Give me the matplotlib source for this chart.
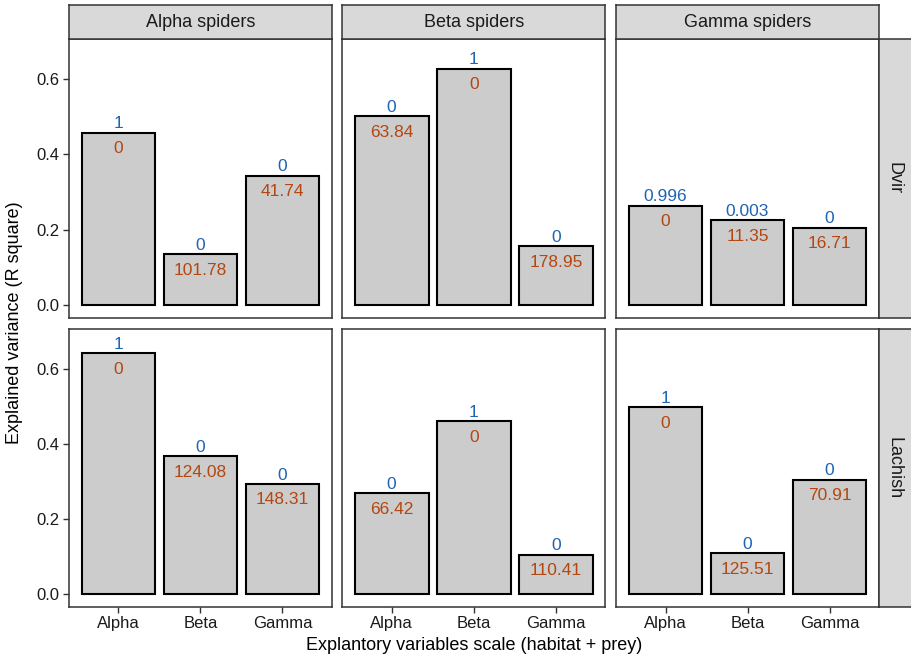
import matplotlib
matplotlib.use("Agg")
import matplotlib.pyplot as plt
from matplotlib.patches import Rectangle

plt.rcParams["font.family"] = ["Liberation Sans", "DejaVu Sans"]

# Facets
spider_groups = ["Alpha spiders", "Beta spiders", "Gamma spiders"]
sites = ["Dvir", "Lachish"]
scales = ["Alpha", "Beta", "Gamma"]

# Explained variance (R square) per site, spider group, explanatory scale
r2_dvir = {
    "Alpha spiders": [0.457, 0.135, 0.343],
    "Beta spiders": [0.501, 0.627, 0.156],
    "Gamma spiders": [0.263, 0.225, 0.205],
}
r2_lachish = {
    "Alpha spiders": [0.641, 0.367, 0.293],
    "Beta spiders": [0.268, 0.460, 0.1045],
    "Gamma spiders": [0.497, 0.109, 0.304],
}

# Model weights (above bars)
weight_dvir = {
    "Alpha spiders": ["1", "0", "0"],
    "Beta spiders": ["0", "1", "0"],
    "Gamma spiders": ["0.996", "0.003", "0"],
}
weight_lachish = {
    "Alpha spiders": ["1", "0", "0"],
    "Beta spiders": ["0", "1", "0"],
    "Gamma spiders": ["1", "0", "0"],
}

# Delta AIC (inside bars)
daic_dvir = {
    "Alpha spiders": ["0", "101.78", "41.74"],
    "Beta spiders": ["63.84", "0", "178.95"],
    "Gamma spiders": ["0", "11.35", "16.71"],
}
daic_lachish = {
    "Alpha spiders": ["0", "124.08", "148.31"],
    "Beta spiders": ["66.42", "0", "110.41"],
    "Gamma spiders": ["0", "125.51", "70.91"],
}

r2 = {"Dvir": r2_dvir, "Lachish": r2_lachish}
weights = {"Dvir": weight_dvir, "Lachish": weight_lachish}
daic = {"Dvir": daic_dvir, "Lachish": daic_lachish}

W, H = 911, 657
fig = plt.figure(figsize=(W / 100, H / 100), dpi=100)

col_x = [(69.3, 331.7), (342.3, 605.3), (616.3, 878.7)]
row_y = [(39.3, 317.7), (329.3, 606.7)]
strip_top = 5.0
strip_right = 912.0

BORDER = "#333333"
STRIP_FILL = "#d9d9d9"
BLUE = "#1f63b3"
ORANGE = "#b4460f"
LABEL_SIZE = 12.5


def fig_rect(x0, y0, x1, y1):
    return [x0 / W, 1 - y1 / H, (x1 - x0) / W, (y1 - y0) / H]


def style_strip(sax):
    sax.add_patch(Rectangle((0, 0), 1, 1, facecolor=STRIP_FILL,
                            edgecolor="none", transform=sax.transAxes))
    sax.set_xticks([])
    sax.set_yticks([])
    for s in sax.spines.values():
        s.set_color(BORDER)
        s.set_linewidth(1.1)


for r, site in enumerate(sites):
    for c, grp in enumerate(spider_groups):
        x0, x1 = col_x[c]
        y0, y1 = row_y[r]
        ax = fig.add_axes(fig_rect(x0, y0, x1, y1))
        vals = r2[site][grp]
        xs = list(range(1, len(scales) + 1))
        ax.bar(xs, vals, width=0.9, color="#cccccc", edgecolor="black",
               linewidth=1.5, zorder=2)
        for xi, v, wl, dl in zip(xs, vals, weights[site][grp], daic[site][grp]):
            ax.annotate(wl, (xi, v), xytext=(0, 3.2), textcoords="offset points",
                        ha="center", va="baseline", color=BLUE,
                        fontsize=LABEL_SIZE, zorder=3)
            ax.annotate(dl, (xi, v), xytext=(0, -14.7), textcoords="offset points",
                        ha="center", va="baseline", color=ORANGE,
                        fontsize=LABEL_SIZE, zorder=3)
        ax.set_xlim(0.4, 3.6)
        ax.set_ylim(-0.0337, 0.7048)
        ax.set_yticks([0.0, 0.2, 0.4, 0.6])
        ax.set_xticks(xs)
        for s in ax.spines.values():
            s.set_color(BORDER)
            s.set_linewidth(1.1)
        ax.tick_params(colors=BORDER, width=1.0, length=4, labelcolor="#1a1a1a",
                       labelsize=12, pad=3)
        if c == 0:
            ax.set_yticklabels(["0.0", "0.2", "0.4", "0.6"])
        else:
            ax.tick_params(axis="y", left=False, labelleft=False)
        if r == len(sites) - 1:
            ax.set_xticklabels(scales)
        else:
            ax.tick_params(axis="x", bottom=False, labelbottom=False)

        # column strip
        if r == 0:
            sax = fig.add_axes(fig_rect(x0, strip_top, x1, y0))
            style_strip(sax)
            sax.text(0.5, 0.5, grp, ha="center", va="center", fontsize=13,
                     color="#1a1a1a", transform=sax.transAxes)
        # row strip
        if c == len(spider_groups) - 1:
            sax = fig.add_axes(fig_rect(x1, y0, strip_right, y1))
            style_strip(sax)
            sax.text(0.45, 0.5, site, ha="center", va="center", fontsize=13,
                     color="#1a1a1a", rotation=-90, transform=sax.transAxes)

fig.text((col_x[0][0] + col_x[-1][1]) / 2 / W, 1 - 646 / H,
         "Explantory variables scale (habitat + prey)",
         ha="center", va="center", fontsize=13, color="black")
fig.text(15 / W, 1 - ((row_y[0][0] + row_y[-1][1]) / 2) / H,
         "Explained variance (R square)", ha="center", va="center",
         rotation=90, fontsize=13, color="black")

fig.savefig("out.png", dpi=100)
